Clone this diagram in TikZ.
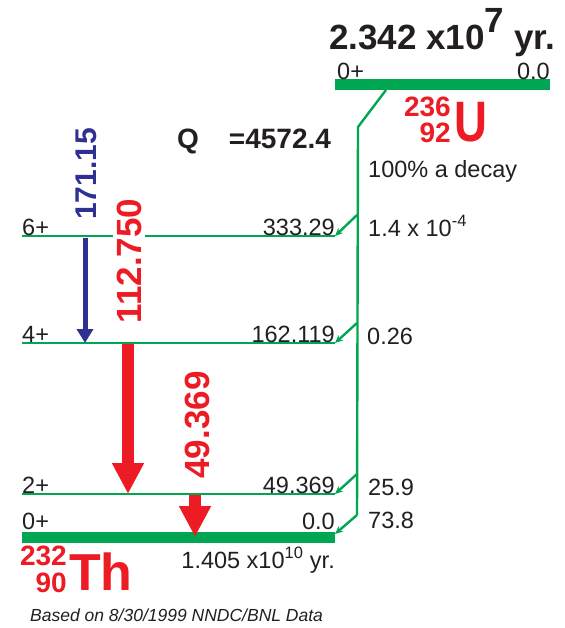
\documentclass[tikz,border=0pt]{standalone}
\usepackage{fontspec}
\setmainfont{Liberation Sans}
\usetikzlibrary{arrows.meta}
\definecolor{lvlgreen}{HTML}{00A651}
\definecolor{gamred}{HTML}{ED1C24}
\definecolor{gamblue}{HTML}{2E3192}
\definecolor{txtblack}{HTML}{231F20}

\begin{document}
\begin{tikzpicture}[x=1pt,y=-1pt,
  level/.style={lvlgreen,line width=2.5pt},
  ground/.style={lvlgreen,line width=11pt},
  decay/.style={lvlgreen,line width=2.4pt},
  feed/.style={lvlgreen,line width=2.4pt,-{Stealth[length=8pt,width=7pt]}},
  lbl/.style={inner sep=0pt,text=txtblack,font=\fontsize{23.5}{26}\selectfont},
  translbl/.style={inner sep=0pt,rotate=90,font=\bfseries\fontsize{35}{40}\selectfont},
  iso/.style={inner sep=0pt,text=gamred,font=\bfseries\fontsize{28}{30}\selectfont},
  elem/.style={inner sep=0pt,text=gamred,font=\bfseries\fontsize{52}{60}\selectfont}]
  \useasboundingbox (0,0) rectangle (564,628);

  % parent 236U
  \coordinate (U0l) at (335,85);
  \coordinate (U0r) at (550,85);
  \draw[ground] (U0l) -- (U0r);
  \node[lbl,anchor=base west] (U0spin) at (337,80) {0+};
  \node[lbl,anchor=base east] (U0en) at (550,80) {0.0};
  \node[inner sep=0pt,text=txtblack,font=\bfseries\fontsize{35}{40}\selectfont,anchor=base west]
    (Uhalf) at (329,50) {2.342 x10\raisebox{0.5em}{7} yr.};
  \node[iso,anchor=base east] (Umass) at (451,117) {236};
  \node[iso,anchor=base east] (Uz) at (451,143) {92};
  \node[elem,anchor=base west] (Usym) at (454,142) {\scalebox{0.8}[1]{\fontsize{57}{60}\selectfont U}};
  \node[inner sep=0pt,text=txtblack,font=\bfseries\fontsize{28}{30}\selectfont,anchor=base west]
    (Q) at (177,149) {Q\hspace{30pt}=4572.4};
  \node[lbl,anchor=base west] (branch) at (368,178) {100\% a decay};

  % daughter 232Th levels
  \coordinate (L6l) at (22,236);  \coordinate (L6r) at (335,236);
  \coordinate (L4l) at (22,343);  \coordinate (L4r) at (335,343);
  \coordinate (L2l) at (22,494);  \coordinate (L2r) at (335,494);
  \coordinate (L0l) at (22,537.5); \coordinate (L0r) at (335,537.5);
  \draw[level] (L6l) -- (L6r);
  \draw[level] (L4l) -- (L4r);
  \draw[level] (L2l) -- (L2r);
  \draw[ground] (L0l) -- (L0r);

  \node[lbl,anchor=base west] (s6) at (22,235) {6+};
  \node[lbl,anchor=base east] (e6) at (335,235) {333.29};
  \node[lbl,anchor=base west] (s4) at (22,342) {4+};
  \node[lbl,anchor=base east] (e4) at (335,342) {162.119};
  \node[lbl,anchor=base west] (s2) at (22,493) {2+};
  \node[lbl,anchor=base east] (e2) at (335,493) {49.369};
  \node[lbl,anchor=base west] (s0) at (22,529) {0+};
  \node[lbl,anchor=base east] (e0) at (335,529) {0.0};

  \node[iso,anchor=base east] (Thmass) at (67,565) {232};
  \node[iso,anchor=base east] (Thz) at (67,592) {90};
  \node[elem,anchor=base west] (Thsym) at (69,590) {Th};
  \node[lbl,anchor=base east] (Thhalf) at (335,568) {1.405 x10\textsuperscript{10} yr.};

  % alpha feeding
  \coordinate (Ufoot) at (386,90);
  \coordinate (bend) at (358,127);
  \coordinate (b6) at (357,215);
  \coordinate (b4) at (357,323);
  \coordinate (b2) at (357,474);
  \coordinate (b0) at (357,515);
  \coordinate (L0tip) at (335,534);
  \draw[decay] (Ufoot) -- (bend) -- (b0);
  \draw[feed] (b6) -- (L6r);
  \draw[feed] (b4) -- (L4r);
  \draw[feed] (b2) -- (L2r);
  \draw[feed] (b0) -- (L0tip);

  \node[lbl,anchor=base west] (i6) at (368,236) {1.4 x 10\textsuperscript{-4}};
  \node[lbl,anchor=base west] (i4) at (367,344) {0.26};
  \node[lbl,anchor=base west] (i2) at (368,495) {25.9};
  \node[lbl,anchor=base west] (i0) at (368,528) {73.8};

  % gamma transitions
  \coordinate (g6a) at (85,238);  \coordinate (g6b) at (85,343);
  \coordinate (g4a) at (128,344); \coordinate (g4b) at (128,494);
  \coordinate (g2a) at (195,495); \coordinate (g2b) at (195,537);
  \draw[gamblue,line width=5pt,-{Triangle[length=14pt,width=16pt]}] (g6a) -- (g6b);
  \draw[gamred,line width=12pt,-{Triangle[length=31pt,width=30pt]}] (g4a) -- (g4b);
  \draw[gamred,line width=12pt,-{Triangle[length=31pt,width=30pt]}] (g2a) -- (g2b);
  \node[translbl,text=gamblue,font=\bfseries\fontsize{30}{34}\selectfont] (t6) at (86,174) {171.15};
  \node[translbl,text=gamred,fill=white,inner sep=3.5pt] (t4) at (129,261) {112.750};
  \node[translbl,text=gamred] (t2) at (197,425) {49.369};

  \node[inner sep=0pt,text=txtblack,font=\itshape\fontsize{17.5}{20}\selectfont,anchor=base west]
    (src) at (30,621) {Based on 8/30/1999 NNDC/BNL Data};
\end{tikzpicture}
\end{document}
